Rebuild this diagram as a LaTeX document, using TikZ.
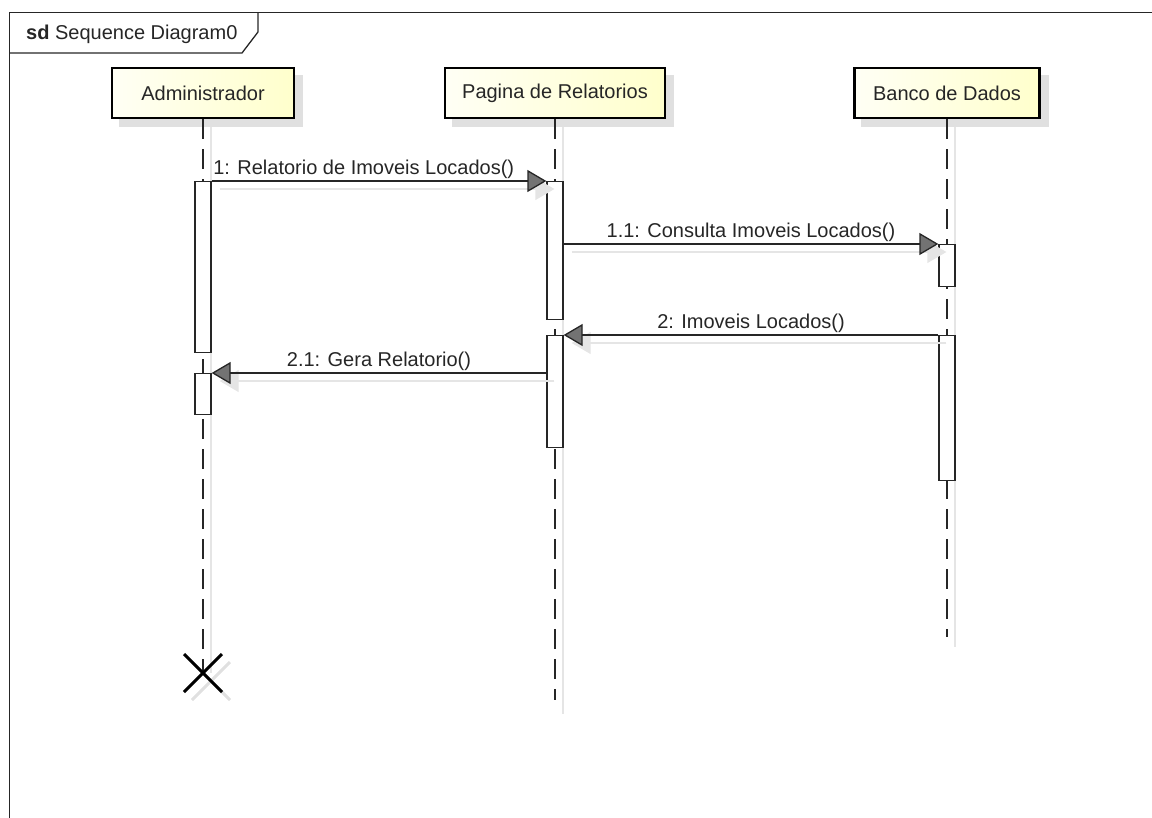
\documentclass[tikz,border=0pt]{standalone}
\usepackage{fontspec}
\setmainfont{Liberation Sans}
\usetikzlibrary{positioning}
\usetikzlibrary{arrows.meta}
\usetikzlibrary{shapes.misc}
\usetikzlibrary{backgrounds}
\definecolor{headfill}{RGB}{255,255,204}
\tikzset{
	every node/.style = {font=\fontsize{20}{24}\selectfont, text=black!85},
	head/.style = {draw=black, line width=2.6pt, minimum height=50pt, inner sep=0pt, left color=headfill!20, right color=headfill},
	headshadow/.style = {fill=black!12},
	lifeline/.style = {line width=1.3pt, black!85, dash pattern=on 20pt off 10pt},
	lifeshadow/.style = {line width=1.3pt, black!10},
	bar/.style = {draw=black!85, fill=white, line width=1.3pt, minimum width=16pt, inner sep=0pt, anchor=north},
	msg/.style = {line width=1.3pt, black!85, -{Triangle[length=19pt, width=22pt, fill=black!55]}},
	msgshadow/.style = {line width=1.3pt, black!10, -{Triangle[length=19pt, width=22pt, fill=black!10]}, transform canvas={shift={(8pt,-8pt)}}},
	lbl/.style = {inner sep=0pt, anchor=base, yshift=6.5pt},
	destroy/.style = {cross out, draw=black, line width=3pt, minimum size=35pt, inner sep=0pt},
	destroyshadow/.style = {cross out, draw=black!12, line width=3pt, minimum size=35pt, inner sep=0pt}
}
\begin{document}
\begin{tikzpicture}[x=1pt, y=-1pt]
	\useasboundingbox (0,0) rectangle (1152,818);
	% frame
	\draw[line width=1.3pt, black!85] (9.5,818) -- (9.5,12.5) -- (1152,12.5);
	\draw[line width=1.3pt, black!85] (9.5,53) -- (242,53) -- (258,32) -- (258,12.5);
	\node[inner sep=0pt, anchor=base west] (title) at (26,40) {\textbf{sd} Sequence Diagram0};
	% lifeline heads
	\node[head, minimum width=182pt] (adm) at (203,93) {Administrador};
	\node[head, minimum width=220pt] (pag) at (555,93) {Pagina de Relatorios};
	\node[head, minimum width=185pt] (ban) at (947,93) {Banco de Dados};
	% ends
	\coordinate (xpos) at (203,673);
	\coordinate (pagEnd) at (555,700);
	\coordinate (banEnd) at (947,637);
	\node[destroy] (admx) at (xpos) {};
	% activations
	\node[bar, minimum height=171pt] (adm1) at (203,181) {};
	\node[bar, minimum height=41pt] (adm2) at (203,373) {};
	\node[bar, minimum height=138pt] (pag1) at (555,181) {};
	\node[bar, minimum height=112pt] (pag2) at (555,335) {};
	\node[bar, minimum height=42pt] (ban1) at (947,244) {};
	\node[bar, minimum height=145pt] (ban2) at (947,335) {};
	\begin{scope}[on background layer]
		\foreach \n in {adm, pag, ban}
			\fill[headshadow] ([shift={(8,8)}]\n.north west) rectangle ([shift={(8,8)}]\n.south east);
		\node[destroyshadow] (admxs) at ([shift={(8,8)}]xpos) {};
		\draw[lifeshadow] ([shift={(8,8)}]adm.south) -- ([shift={(8,0)}]admx.center);
		\draw[lifeshadow] ([shift={(8,8)}]pag.south) -- ([shift={(8,14)}]pagEnd);
		\draw[lifeshadow] ([shift={(8,8)}]ban.south) -- ([shift={(8,10)}]banEnd);
		\draw[lifeline] (adm.south) -- (admx.center);
		\draw[lifeline] (pag.south) -- (pagEnd);
		\draw[lifeline] (ban.south) -- (banEnd);
	\end{scope}
	% messages
	\draw[msgshadow] (adm1.north east) -- (pag1.north west);
	\draw[msgshadow] (pag1.east |- ban1.north) -- (ban1.north west);
	\draw[msgshadow] (ban2.north west) -- (pag2.north east);
	\draw[msgshadow] (pag2.west |- adm2.north) -- (adm2.north east);
	\draw[msg] (adm1.north east) -- (pag1.north west)
		node[lbl, anchor=base west, pos=0, xshift=1pt] (m1) {1: Relatorio de Imoveis Locados()};
	\draw[msg] (pag1.east |- ban1.north) -- (ban1.north west)
		node[lbl, midway] (m11) {1.1: Consulta Imoveis Locados()};
	\draw[msg] (ban2.north west) -- (pag2.north east)
		node[lbl, midway] (m2) {2: Imoveis Locados()};
	\draw[msg] (pag2.west |- adm2.north) -- (adm2.north east)
		node[lbl, midway] (m21) {2.1: Gera Relatorio()};
\end{tikzpicture}
\end{document}
